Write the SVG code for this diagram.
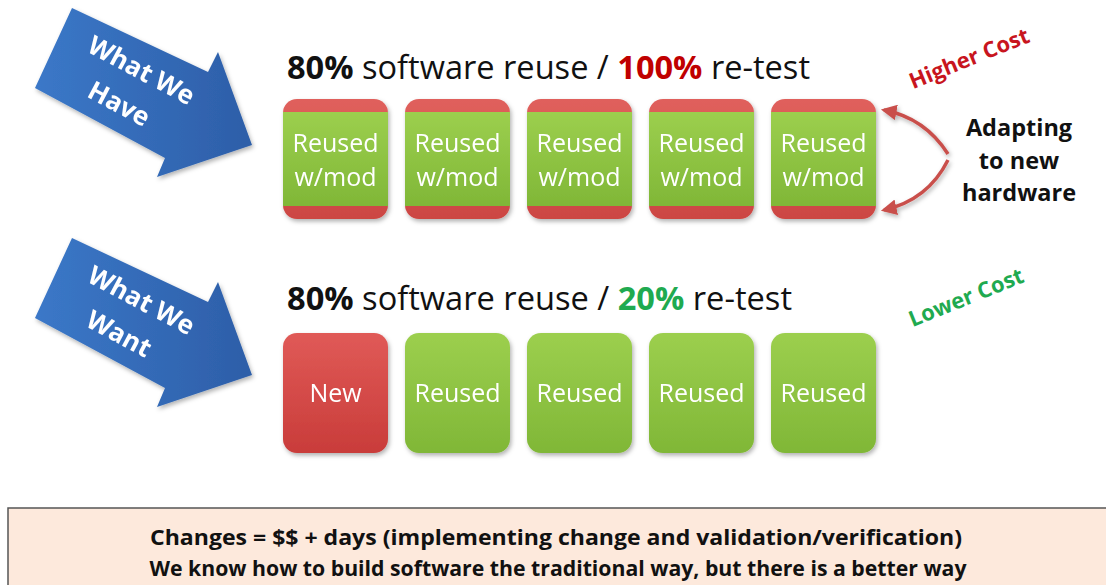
<svg xmlns="http://www.w3.org/2000/svg" width="1106" height="585" viewBox="0 0 1106 585">
<defs>
  <linearGradient id="gBlue" x1="0" y1="0" x2="1" y2="0">
    <stop offset="0" stop-color="#3b78c8"/>
    <stop offset="1" stop-color="#2d5ea8"/>
  </linearGradient>
  <linearGradient id="gGreen" x1="0" y1="0" x2="0" y2="1">
    <stop offset="0" stop-color="#9ccf4e"/>
    <stop offset="1" stop-color="#80b737"/>
  </linearGradient>
  <linearGradient id="gRed" x1="0" y1="0" x2="0" y2="1">
    <stop offset="0" stop-color="#e05a57"/>
    <stop offset="1" stop-color="#c93c3a"/>
  </linearGradient>
  <linearGradient id="gBand" x1="0" y1="0" x2="0" y2="1">
    <stop offset="0" stop-color="#e0605c"/>
    <stop offset="1" stop-color="#cc4643"/>
  </linearGradient>
  <filter id="sh" x="-20%" y="-20%" width="140%" height="140%">
    <feDropShadow dx="1.5" dy="2.5" stdDeviation="2" flood-color="#000" flood-opacity="0.3"/>
  </filter>
  <marker id="ah" viewBox="0 0 10 10" refX="8" refY="5" markerWidth="4.5" markerHeight="4.5" orient="auto-start-reverse">
    <path d="M0,0 L10,5 L0,10 z" fill="#c9504c"/>
  </marker>
</defs>
<style>
  .t { font-family: "Open Sans", "Liberation Sans", sans-serif; }
  .title { font-size: 32px; fill: #111; }
  .b { font-weight: bold; }
  .box { fill: #fff; font-size: 25px; text-anchor: middle; }
  .arr { fill: #fff; font-size: 26px; font-weight: bold; text-anchor: middle; }
  .conn { fill: none; stroke: #c9504c; stroke-width: 3.5; marker-end: url(#ah); }
</style>
<rect width="1106" height="585" fill="#fff"/>

<g id="arrow-have" filter="url(#sh)">
  <polygon points="72,8 208,72 218,52 252,145 157,177 165,158 35,88" fill="url(#gBlue)"/>
  <g transform="translate(132,88) rotate(28)">
    <text class="t arr" x="0" y="-11">What We</text>
    <text class="t arr" x="-4" y="29">Have</text>
  </g>
</g>
<g id="arrow-want" filter="url(#sh)">
  <polygon points="72,238 208,302 218,282 252,375 157,407 165,388 35,318" fill="url(#gBlue)"/>
  <g transform="translate(132,318) rotate(28)">
    <text class="t arr" x="0" y="-11">What We</text>
    <text class="t arr" x="-4" y="29">Want</text>
  </g>
</g>

<g id="title-have">
  <text class="t title" x="287" y="79" textLength="523" lengthAdjust="spacingAndGlyphs"><tspan class="b">80%</tspan> software reuse / <tspan class="b" fill="#c00000">100%</tspan> re-test</text>
</g>
<g id="title-want">
  <text class="t title" x="287" y="310" textLength="505" lengthAdjust="spacingAndGlyphs"><tspan class="b">80%</tspan> software reuse / <tspan class="b" fill="#1faa50">20%</tspan> re-test</text>
</g>

<g id="top-1" filter="url(#sh)">
  <rect x="283" y="99" width="105" height="120" rx="14" fill="url(#gBand)"/>
  <rect x="283" y="112" width="105" height="94" fill="url(#gGreen)"/>
  <text class="t box" x="335.5" y="152">Reused</text>
  <text class="t box" x="335.5" y="186">w/mod</text>
</g>
<g id="top-2" filter="url(#sh)">
  <rect x="405" y="99" width="105" height="120" rx="14" fill="url(#gBand)"/>
  <rect x="405" y="112" width="105" height="94" fill="url(#gGreen)"/>
  <text class="t box" x="457.5" y="152">Reused</text>
  <text class="t box" x="457.5" y="186">w/mod</text>
</g>
<g id="top-3" filter="url(#sh)">
  <rect x="527" y="99" width="105" height="120" rx="14" fill="url(#gBand)"/>
  <rect x="527" y="112" width="105" height="94" fill="url(#gGreen)"/>
  <text class="t box" x="579.5" y="152">Reused</text>
  <text class="t box" x="579.5" y="186">w/mod</text>
</g>
<g id="top-4" filter="url(#sh)">
  <rect x="649" y="99" width="105" height="120" rx="14" fill="url(#gBand)"/>
  <rect x="649" y="112" width="105" height="94" fill="url(#gGreen)"/>
  <text class="t box" x="701.5" y="152">Reused</text>
  <text class="t box" x="701.5" y="186">w/mod</text>
</g>
<g id="top-5" filter="url(#sh)">
  <rect x="771" y="99" width="105" height="120" rx="14" fill="url(#gBand)"/>
  <rect x="771" y="112" width="105" height="94" fill="url(#gGreen)"/>
  <text class="t box" x="823.5" y="152">Reused</text>
  <text class="t box" x="823.5" y="186">w/mod</text>
</g>

<g id="bot-1" filter="url(#sh)">
  <rect x="283" y="333" width="105" height="120" rx="14" fill="url(#gRed)"/>
  <text class="t box" x="335.5" y="402">New</text>
</g>
<g id="bot-2" filter="url(#sh)">
  <rect x="405" y="333" width="105" height="120" rx="14" fill="url(#gGreen)"/>
  <text class="t box" x="457.5" y="402">Reused</text>
</g>
<g id="bot-3" filter="url(#sh)">
  <rect x="527" y="333" width="105" height="120" rx="14" fill="url(#gGreen)"/>
  <text class="t box" x="579.5" y="402">Reused</text>
</g>
<g id="bot-4" filter="url(#sh)">
  <rect x="649" y="333" width="105" height="120" rx="14" fill="url(#gGreen)"/>
  <text class="t box" x="701.5" y="402">Reused</text>
</g>
<g id="bot-5" filter="url(#sh)">
  <rect x="771" y="333" width="105" height="120" rx="14" fill="url(#gGreen)"/>
  <text class="t box" x="823.5" y="402">Reused</text>
</g>

<g id="higher-cost">
  <text class="t b" x="969" y="66" font-size="22" fill="#c8151e" text-anchor="middle" transform="rotate(-22 969 58)">Higher Cost</text>
</g>
<g id="lower-cost">
  <text class="t b" x="966" y="305" font-size="22" fill="#1faa50" text-anchor="middle" transform="rotate(-22 966 297)">Lower Cost</text>
</g>
<g id="adapting">
  <text class="t b" x="1019" y="136" font-size="23.5" fill="#111" text-anchor="middle">Adapting</text>
  <text class="t b" x="1019" y="169" font-size="23.5" fill="#111" text-anchor="middle">to new</text>
  <text class="t b" x="1019" y="201" font-size="23.5" fill="#111" text-anchor="middle">hardware</text>
</g>

<g id="connectors" filter="url(#sh)">
  <path class="conn" d="M948,154 Q925,118 884,110"/>
  <path class="conn" d="M948,160 Q928,200 884,210"/>
</g>

<g id="footer">
  <rect x="8" y="508" width="1110" height="90" fill="#fde9dc" stroke="#555" stroke-width="1.5"/>
  <text class="t b" x="556" y="545" font-size="22" fill="#111" text-anchor="middle" textLength="812" lengthAdjust="spacingAndGlyphs">Changes = $$ + days (implementing  change and validation/verification)</text>
  <text class="t b" x="558" y="576" font-size="22" fill="#111" text-anchor="middle" textLength="817" lengthAdjust="spacingAndGlyphs">We know how to build software the traditional way, but there is a better way</text>
</g>
</svg>
